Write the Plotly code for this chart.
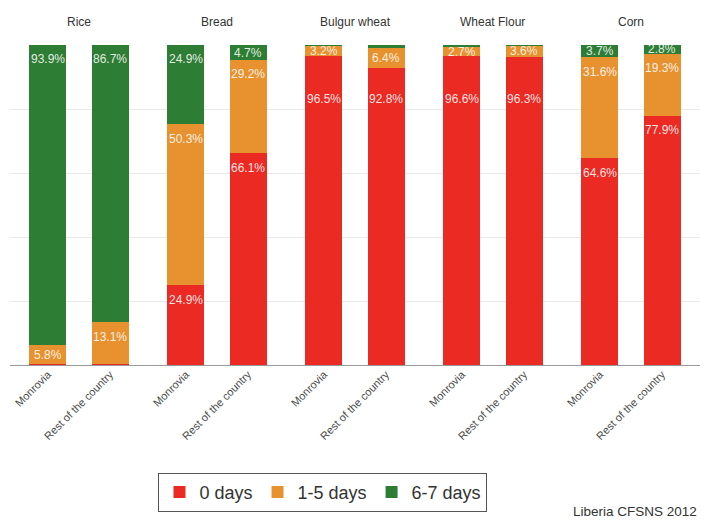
import plotly.graph_objects as go
from plotly.subplots import make_subplots

foods = ["Rice", "Bread", "Bulgur wheat", "Wheat Flour", "Corn"]
regions = ["Monrovia", "Rest of the country"]
series_names = ["0 days", "1-5 days", "6-7 days"]
zero_days = [[0.3, 0.2], [24.9, 66.1], [96.5, 92.8], [96.6, 96.3], [64.6, 77.9]]
one_five_days = [[5.8, 13.1], [50.3, 29.2], [3.2, 6.4], [2.7, 3.6], [31.6, 19.3]]
six_seven_days = [[93.9, 86.7], [24.9, 4.7], [0.3, 0.8], [0.7, 0.1], [3.7, 2.8]]
source_text = "Liberia CFSNS 2012"

series_values = [zero_days, one_five_days, six_seven_days]
colors = ["#EC2A24", "#E8922F", "#2E7D34"]

fig = make_subplots(rows=1, cols=len(foods), shared_yaxes=True,
                    horizontal_spacing=0)

for i, food in enumerate(foods):
    col = i + 1
    base = [0.0, 0.0]
    for s, name in enumerate(series_names):
        vals = series_values[s][i]
        fig.add_trace(go.Bar(
            x=regions, y=vals, name=name,
            marker=dict(color=colors[s], line=dict(width=0)),
            width=0.595, showlegend=(i == 0), legendgroup=name,
            hoverinfo="skip"),
            row=1, col=col)
        for j, v in enumerate(vals):
            top = base[j] + v
            if v >= 2.5:
                y = top - min(v / 2.0, 4.5)
                if s == 0:
                    y = min(y, 83)
                fig.add_annotation(
                    x=regions[j], y=y, text=f"{v:.1f}%", showarrow=False,
                    xref=f"x{col if col > 1 else ''}", yref="y",
                    xanchor="center", yanchor="middle",
                    font=dict(family="Arial", size=12,
                              color="rgba(255,255,255,0.88)"))
            base[j] = top
    fig.update_xaxes(range=[-0.61, 1.61], tickangle=-45, showgrid=False,
                     showline=False, ticks="",
                     tickfont=dict(family="Arial", size=11, color="#4A4A4A"),
                     row=1, col=col)
    fig.add_annotation(
        x=(i + 0.5) / len(foods), y=1.072, xref="paper", yref="paper",
        text=food, showarrow=False, xanchor="center", yanchor="middle",
        font=dict(family="Arial", size=12, color="#333333"))

fig.update_yaxes(range=[0, 100], dtick=20, showticklabels=False,
                 showgrid=True, gridcolor="#E9E9E9", gridwidth=1,
                 zeroline=True, zerolinecolor="#9A9A9A", zerolinewidth=1,
                 showline=False, ticks="")

fig.add_annotation(x=0.999, y=-0.459, xref="paper", yref="paper",
                   text=source_text, showarrow=False, xanchor="right",
                   yanchor="middle",
                   font=dict(family="Arial", size=13.5, color="#333333"))

# page body has an 8px default margin, so the figure is 8px smaller
fig.update_layout(
    width=701, height=512, barmode="stack",
    margin=dict(l=2, r=9, t=37, b=155),
    paper_bgcolor="white", plot_bgcolor="white",
    bargap=0,
    legend=dict(orientation="h", x=0.4536, y=-0.398, xanchor="center",
                yanchor="middle", bordercolor="#555555", borderwidth=1,
                font=dict(family="Arial", size=18, color="#333333"),
                traceorder="normal", itemclick=False),
    showlegend=True,
)

fig.write_html("out.html")
